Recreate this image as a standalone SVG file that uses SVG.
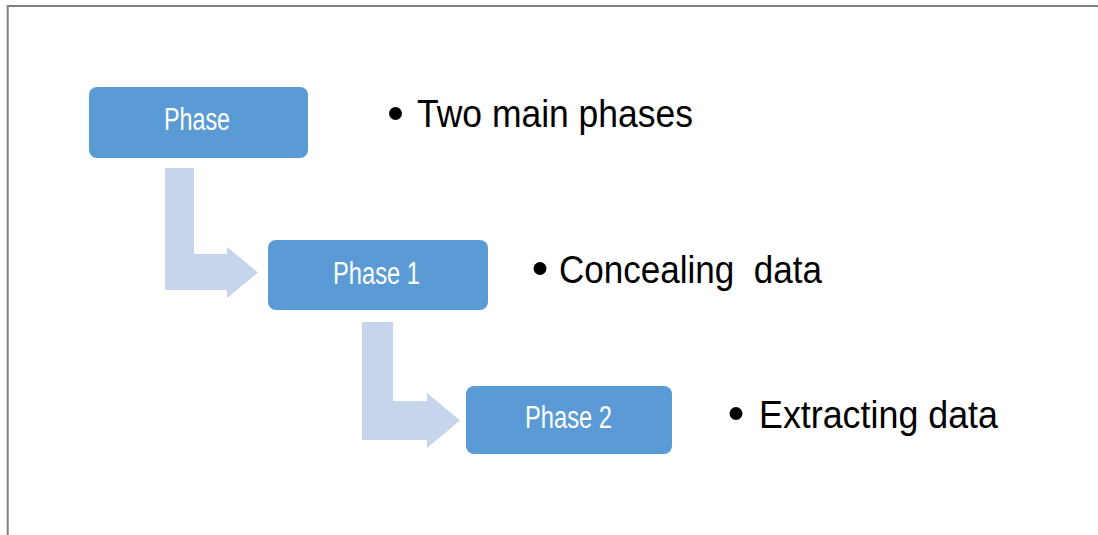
<svg xmlns="http://www.w3.org/2000/svg" width="1098" height="535" viewBox="0 0 1098 535">
  <defs>
    <style>
      .node { fill: #5B9BD5; }
      .ntext { fill: #FFFFFF; font-family: "Liberation Sans", Arial, sans-serif; font-size: 31px; text-anchor: middle; }
      .arrow { fill: #C6D5EB; }
      .btext { fill: #000000; font-family: "Liberation Sans", Arial, sans-serif; font-size: 38px; white-space: pre; }
      .bullet { fill: #000000; }
      .frame { fill: none; stroke: #808080; stroke-width: 2; }
    </style>
  </defs>
  <rect width="1098" height="535" fill="#FFFFFF"/>
  <path class="frame" d="M7.7,535 V6 H1098"/>

  <g id="connectors">
    <path class="arrow" d="M165,168 H194 V254 H227 V247 L258,272.5 L227,298 V290 H165 Z"/>
    <path class="arrow" d="M362,322 H393 V401 H427 V393 L460,420.5 L427,448 V440 H362 Z"/>
  </g>

  <g id="node-phase">
    <rect class="node" x="89" y="87" width="219" height="71" rx="8"/>
    <text class="ntext" x="197" y="130" textLength="66" lengthAdjust="spacingAndGlyphs">Phase</text>
  </g>
  <g id="node-phase1">
    <rect class="node" x="268" y="240" width="220" height="70" rx="8"/>
    <text class="ntext" x="376.5" y="284" textLength="87" lengthAdjust="spacingAndGlyphs">Phase 1</text>
  </g>
  <g id="node-phase2">
    <rect class="node" x="466" y="386" width="206" height="68" rx="8"/>
    <text class="ntext" x="568.5" y="428" textLength="87" lengthAdjust="spacingAndGlyphs">Phase 2</text>
  </g>

  <g id="bullet-1">
    <circle class="bullet" cx="395.5" cy="113.5" r="6.5"/>
    <text class="btext" x="417" y="127" textLength="276" lengthAdjust="spacingAndGlyphs">Two main phases</text>
  </g>
  <g id="bullet-2">
    <circle class="bullet" cx="540" cy="268.5" r="6.5"/>
    <text class="btext" x="559" y="283" textLength="263" lengthAdjust="spacingAndGlyphs" xml:space="preserve">Concealing  data</text>
  </g>
  <g id="bullet-3">
    <circle class="bullet" cx="736" cy="413.5" r="6.5"/>
    <text class="btext" x="759" y="428" textLength="239" lengthAdjust="spacingAndGlyphs">Extracting data</text>
  </g>
</svg>
